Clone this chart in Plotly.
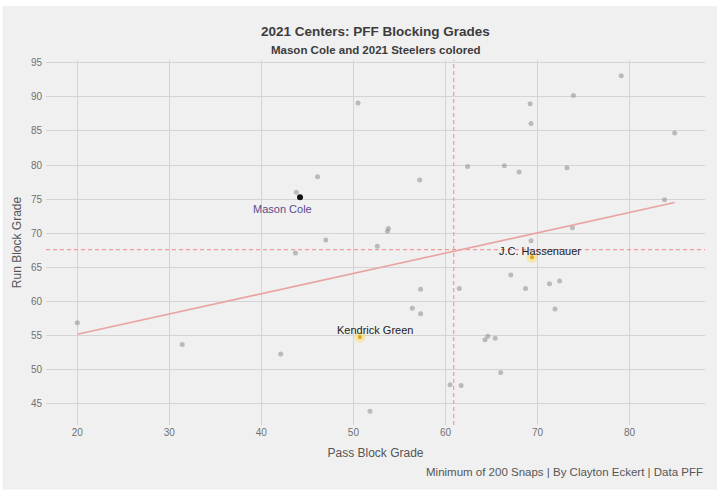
import plotly.graph_objects as go

# ---- data ----
pass_grade = [20.0, 31.4, 42.1, 43.8, 46.1, 50.5, 47.0, 43.7, 57.2, 62.4, 53.7, 53.8,
              52.6, 57.3, 56.4, 57.3, 51.8, 60.5, 61.7, 61.5, 64.3, 64.6, 65.4, 66.0,
              67.1, 68.7, 71.3, 72.4, 71.9, 69.3, 66.4, 68.0, 69.2, 69.3, 73.2, 73.9,
              79.1, 84.9, 83.8, 73.8]
run_grade = [56.9, 53.7, 52.3, 76.0, 78.3, 89.1, 69.0, 67.1, 77.8, 79.8, 70.3, 70.7,
             68.1, 61.8, 59.0, 58.2, 43.9, 47.8, 47.7, 61.9, 54.4, 54.9, 54.6, 49.6,
             63.9, 61.9, 62.6, 63.0, 58.9, 68.9, 79.9, 79.0, 89.0, 86.1, 79.6, 90.2,
             93.1, 84.7, 74.9, 70.8]

cole_name = ["Mason Cole"]
cole_pass = [44.2]
cole_run = [75.3]
cole_label_pos = [(42.3, 73.55)]

steelers_names = ["Kendrick Green", "J.C. Hassenauer"]
steelers_pass = [50.7, 69.4]
steelers_run = [54.8, 66.5]
steelers_label_pos = [(52.3, 55.8), (70.3, 67.45)]

avg_pass = 60.9
avg_run = 67.6
fit_x = [20.0, 84.9]
fit_y = [55.2, 74.5]

x_ticks = [20, 30, 40, 50, 60, 70, 80]
y_ticks = [45, 50, 55, 60, 65, 70, 75, 80, 85, 90, 95]

FONT = "Liberation Sans, Arial, sans-serif"
BG = "#f0f0f0"
X_RANGE = [16.6, 88.2]
Y_RANGE = [41.9, 95.4]

fig = go.Figure()

# reference lines (averages)
fig.add_trace(go.Scatter(x=[avg_pass, avg_pass], y=Y_RANGE, mode="lines",
                         line=dict(color="#f29a9a", width=1.2, dash="4px,3px"),
                         hoverinfo="skip", showlegend=False))
fig.add_trace(go.Scatter(x=X_RANGE, y=[avg_run, avg_run], mode="lines",
                         line=dict(color="#f29a9a", width=1.2, dash="4px,3px"),
                         hoverinfo="skip", showlegend=False))

# all centers
fig.add_trace(go.Scatter(x=pass_grade, y=run_grade, mode="markers",
                         marker=dict(size=5, color="rgba(150,150,150,0.6)"),
                         showlegend=False))

# fit line
fig.add_trace(go.Scatter(x=fit_x, y=fit_y, mode="lines",
                         line=dict(color="#e9a3a3", width=1.6),
                         hoverinfo="skip", showlegend=False))

# Steelers halo + core
fig.add_trace(go.Scatter(x=steelers_pass, y=steelers_run, mode="markers",
                         marker=dict(size=11, color="rgba(255,222,110,0.55)"),
                         showlegend=False, hoverinfo="skip"))
fig.add_trace(go.Scatter(x=steelers_pass, y=steelers_run, mode="markers",
                         marker=dict(size=4, color="#e3a21a"),
                         showlegend=False))

# Mason Cole
fig.add_trace(go.Scatter(x=cole_pass, y=cole_run, mode="markers",
                         marker=dict(size=6, color="#111111"),
                         showlegend=False))

for name, (lx, ly) in zip(cole_name, cole_label_pos):
    fig.add_annotation(x=lx, y=ly, text=name, showarrow=False,
                       font=dict(family=FONT, size=11, color="#5b4a8c"))
for name, (lx, ly) in zip(steelers_names, steelers_label_pos):
    fig.add_annotation(x=lx, y=ly, text=name, showarrow=False,
                       font=dict(family=FONT, size=11, color="#222222"))

# titles
fig.add_annotation(xref="paper", yref="paper", x=0.5, y=1.0, yshift=29,
                   yanchor="middle",
                   text="<b>2021 Centers: PFF Blocking Grades</b>", showarrow=False,
                   font=dict(family=FONT, size=13.5, color="#3c3c3c"))
fig.add_annotation(xref="paper", yref="paper", x=0.5, y=1.0, yshift=10,
                   yanchor="middle",
                   text="<b>Mason Cole and 2021 Steelers colored</b>", showarrow=False,
                   font=dict(family=FONT, size=11.5, color="#3c3c3c"))
fig.add_annotation(xref="paper", yref="paper", x=1.0, y=0.0, yshift=-47,
                   xanchor="right", yanchor="middle",
                   text="Minimum of 200 Snaps | By Clayton Eckert | Data PFF", showarrow=False,
                   font=dict(family=FONT, size=11.5, color="#555555"))

# background panel
fig.add_shape(type="rect", xref="paper", yref="paper", layer="below",
              x0=-0.066, x1=1.0183, y0=-0.177, y1=1.148,
              fillcolor=BG, line=dict(width=0))

fig.update_layout(
    width=720, height=498,
    margin=dict(l=46, r=15, t=60, b=73),
    paper_bgcolor="white", plot_bgcolor=BG,
    font=dict(family=FONT),
    xaxis=dict(range=X_RANGE, tickvals=x_ticks, showgrid=True,
               gridcolor="#d4d4d4", gridwidth=1, zeroline=False, showline=False,
               ticks="", tickfont=dict(size=10, color="#707070"),
               title=dict(text="Pass Block Grade", standoff=11,
                          font=dict(size=12, color="#555555"))),
    yaxis=dict(range=Y_RANGE, tickvals=y_ticks, showgrid=True,
               gridcolor="#d4d4d4", gridwidth=1, zeroline=False, showline=False,
               ticks="", tickfont=dict(size=10, color="#707070"), ticklabelstandoff=3,
               title=dict(text="Run Block Grade", standoff=6,
                          font=dict(size=12, color="#555555"))),
)

fig.write_html("out.html")
